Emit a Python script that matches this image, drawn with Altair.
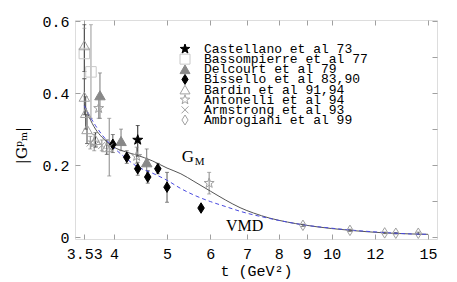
import altair as alt
import pandas as pd

# ---------------- data ----------------
series = ["Castellano et al 73", "Bassompierre et al 77", "Delcourt et al 79",
          "Bissello et al 83,90", "Bardin et al 91,94", "Antonelli et al 94",
          "Armstrong et al 93", "Ambrogiani et al 99"]

cast_t = [4.42];  cast_y = [0.270]; cast_lo = [0.225]; cast_hi = [0.310]
bass_t = [3.53, 3.63]; bass_y = [0.510, 0.459]; bass_lo = [0.44, 0.33]; bass_hi = [0.58, 0.59]
delc_t = [3.77, 4.12, 4.59]; delc_y = [0.394, 0.267, 0.208]
delc_lo = [0.33, 0.24, 0.17]; delc_hi = [0.456, 0.30, 0.245]
biss_t = [3.98, 4.22, 4.42, 4.61, 4.81, 5.00, 5.77]
biss_y = [0.258, 0.222, 0.190, 0.167, 0.190, 0.139, 0.081]
biss_lo = [0.235, 0.205, 0.172, 0.150, 0.176, 0.097, 0.075]
biss_hi = [0.285, 0.240, 0.208, 0.185, 0.205, 0.180, 0.087]
bard_t = [3.53, 3.53, 3.55, 3.57, 3.70, 3.88]
bard_y = [0.533, 0.390, 0.345, 0.300, 0.270, 0.250]
bard_lo = [0.46, 0.34, 0.30, 0.26, 0.25, 0.23]
bard_hi = [0.59, 0.44, 0.39, 0.34, 0.29, 0.27]
anto_t = [3.75, 3.68, 4.40, 5.97]; anto_y = [0.358, 0.262, 0.225, 0.150]
anto_lo = [0.33, 0.24, 0.205, 0.120]; anto_hi = [0.39, 0.285, 0.250, 0.180]
arms_t = [3.62, 3.80, 3.92]; arms_y = [0.262, 0.255, 0.250]
arms_lo = [0.245, 0.24, 0.17]; arms_hi = [0.28, 0.27, 0.33]
ambr_t = [8.86, 10.8, 12.5, 13.1, 14.4]; ambr_y = [0.033, 0.019, 0.012, 0.011, 0.011]
ambr_lo = [0.030, 0.016, 0.010, 0.009, 0.008]; ambr_hi = [0.036, 0.022, 0.014, 0.013, 0.014]

gm_t = [3.53, 3.6, 3.7, 3.8, 3.9, 4.0, 4.2, 4.4, 4.7, 5.0, 5.3, 5.6, 6.0, 6.4, 6.8,
        7.2, 7.7, 8.3, 8.9, 10, 11, 12.5, 14, 15]
gm_y = [0.37, 0.335, 0.30, 0.278, 0.262, 0.25, 0.237, 0.228, 0.212, 0.192, 0.176, 0.155,
        0.128, 0.103, 0.082, 0.067, 0.053, 0.042, 0.034, 0.024, 0.018, 0.012, 0.009, 0.008]
vmd_t = [3.53, 3.6, 3.7, 3.8, 4.0, 4.2, 4.4, 4.7, 5.0, 5.3, 5.6, 6.0, 6.4, 6.8, 7.7,
         8.3, 8.9, 10, 11, 12.5, 14, 15]
vmd_y = [0.365, 0.34, 0.31, 0.285, 0.248, 0.22, 0.197, 0.178, 0.158, 0.135, 0.117, 0.099,
         0.085, 0.072, 0.052, 0.042, 0.034, 0.025, 0.019, 0.013, 0.009, 0.008]

x_ticks = [3.53, 4, 5, 6, 7, 8, 9, 10, 12, 15]
y_ticks = [0, 0.1, 0.2, 0.3, 0.4, 0.5, 0.6]

# ---------------- styling ----------------
STAR = "M0,-1L0.24,-0.33L0.95,-0.31L0.38,0.12L0.59,0.81L0,0.40L-0.59,0.81L-0.38,0.12L-0.95,-0.31L-0.24,-0.33Z"
XMARK = "M-0.7,-0.7L0.7,0.7M-0.7,0.7L0.7,-0.7"
DIAM = "M0,-1L0.62,0L0,1L-0.62,0Z"
shapes = [STAR, "square", "triangle-up", DIAM, "triangle-up", STAR, XMARK, DIAM]
fills = ["black", "transparent", "#888888", "black", "transparent", "transparent",
         "transparent", "transparent"]
strokes = ["black", "#c8c8c8", "#888888", "black", "#a0a0a0", "#a0a0a0", "#a0a0a0", "#a0a0a0"]
ebar_col = ["#222222", "#999999", "#777777", "#555555", "#444444", "#888888", "#888888", "#555555"]

groups = [(cast_t, cast_y, cast_lo, cast_hi), (bass_t, bass_y, bass_lo, bass_hi),
          (delc_t, delc_y, delc_lo, delc_hi), (biss_t, biss_y, biss_lo, biss_hi),
          (bard_t, bard_y, bard_lo, bard_hi), (anto_t, anto_y, anto_lo, anto_hi),
          (arms_t, arms_y, arms_lo, arms_hi), (ambr_t, ambr_y, ambr_lo, ambr_hi)]
rows = []
for i, (ts, ys, los, his) in enumerate(groups):
    for t, y, lo, hi in zip(ts, ys, los, his):
        rows.append({"exp": series[i], "t": t, "y": y, "lo": lo, "hi": hi, "ecol": ebar_col[i]})
pts = pd.DataFrame(rows)
curves = pd.DataFrame({"t": gm_t + vmd_t, "y": gm_y + vmd_y,
                       "model": ["GM"] * len(gm_t) + ["VMD"] * len(vmd_t)})
legend_df = pd.DataFrame({"exp": series})

xs = alt.Scale(type="log", domain=[3.394, 15.58], nice=False)
ys = alt.Scale(domain=[-0.005, 0.603], nice=False, zero=False)
shape_sc = alt.Scale(domain=series, range=shapes)
fill_sc = alt.Scale(domain=series, range=fills)
stroke_sc = alt.Scale(domain=series, range=strokes)

FRAME = "#a0a0a0"
x_axis = alt.Axis(values=x_ticks, format="~g", labelOverlap=False, labelFlush=False,
                  domain=False, offset=-5, tickSize=5, tickColor=FRAME, labelPadding=7,
                  labelFont="Liberation Mono", labelFontSize=15, labelColor="black",
                  title="t (GeV²)", titleFont="Liberation Mono", titleFontSize=15,
                  titleFontWeight="normal", titleColor="black", titlePadding=2,
                  grid=False)
y_axis = alt.Axis(values=y_ticks, format="~g", domain=False, offset=-5, tickSize=5,
                  tickColor=FRAME, labelPadding=6, labelFont="Liberation Mono",
                  labelFontSize=15, labelColor="black", title="|Gᵖₘ|",
                  titleFont="DejaVu Serif", titleFontSize=15, titleFontWeight="normal",
                  titleColor="black", titleX=-51, titleY=125, grid=False)

base_x = alt.X("t:Q", scale=xs, axis=x_axis)
base_y = alt.Y("y:Q", scale=ys, axis=y_axis)

ebars = alt.Chart(pts).mark_rule(strokeWidth=1).encode(
    x=alt.X("t:Q", scale=xs), y=alt.Y("lo:Q", scale=ys), y2="hi:Q",
    stroke=alt.Stroke("ecol:N", scale=None))
caps_lo = alt.Chart(pts).mark_tick(orient="horizontal", size=4, thickness=1).encode(
    x=alt.X("t:Q", scale=xs), y=alt.Y("lo:Q", scale=ys), color=alt.Color("ecol:N", scale=None))
caps_hi = alt.Chart(pts).mark_tick(orient="horizontal", size=4, thickness=1).encode(
    x=alt.X("t:Q", scale=xs), y=alt.Y("hi:Q", scale=ys), color=alt.Color("ecol:N", scale=None))

gm_line = alt.Chart(curves).transform_filter("datum.model == 'GM'").mark_line(
    color="#555555", strokeWidth=1, interpolate="monotone").encode(x=base_x, y=base_y)
vmd_line = alt.Chart(curves).transform_filter("datum.model == 'VMD'").mark_line(
    color="#4a4ae0", strokeWidth=1, strokeDash=[4, 3], interpolate="monotone").encode(
    x=alt.X("t:Q", scale=xs), y=alt.Y("y:Q", scale=ys))

points = alt.Chart(pts).mark_point(size=110, strokeWidth=1, opacity=1, filled=False).encode(
    x=alt.X("t:Q", scale=xs), y=alt.Y("y:Q", scale=ys),
    shape=alt.Shape("exp:N", scale=shape_sc, legend=None),
    fill=alt.Fill("exp:N", scale=fill_sc, legend=None),
    stroke=alt.Stroke("exp:N", scale=stroke_sc, legend=None))

ann_df = pd.DataFrame({"t": [5.32, 5.62, 6.41], "y": [0.222, 0.210, 0.030],
                       "txt": ["G", "M", "VMD"], "fs": [17, 11, 16]})
ann = alt.Chart(ann_df).mark_text(font="Liberation Serif", color="black", align="left",
                                   baseline="middle").encode(
    x=alt.X("t:Q", scale=xs), y=alt.Y("y:Q", scale=ys), text="txt:N",
    size=alt.Size("fs:Q", scale=None, legend=None))

main = alt.layer(ebars, caps_lo, caps_hi, gm_line, vmd_line, points, ann)

frame = alt.Chart(curves).mark_point(opacity=0).encode(
    x=alt.X("t:Q", scale=xs, axis=alt.Axis(orient="top", values=x_ticks, labels=False,
            domain=False, offset=-5, tickSize=5, tickColor=FRAME, title=None, grid=False)),
    y=alt.Y("y:Q", scale=ys, axis=alt.Axis(orient="right", values=y_ticks, labels=False,
            domain=False, offset=-5, tickSize=5, tickColor=FRAME, title=None, grid=False)))

# legend drawn as its own layer: rows placed by a point scale
leg_y = alt.Y("exp:N", sort=series, axis=None,
              scale=alt.Scale(type="point", range=[29, 100], padding=0))
leg_sym = alt.Chart(legend_df).mark_point(size=100, strokeWidth=1, opacity=1, filled=False).encode(
    x=alt.value(110), y=leg_y,
    shape=alt.Shape("exp:N", scale=shape_sc, legend=None),
    fill=alt.Fill("exp:N", scale=fill_sc, legend=None),
    stroke=alt.Stroke("exp:N", scale=stroke_sc, legend=None))
leg_txt = alt.Chart(legend_df).mark_text(font="Liberation Mono", fontSize=13, align="left",
                                         baseline="middle", color="black").encode(
    x=alt.value(129), y=leg_y, text="exp:N")
legend_layer = alt.layer(leg_sym, leg_txt)

chart = alt.layer(main, frame, legend_layer).resolve_scale(
    x="independent", y="independent").properties(
    width=362, height=219,
    autosize=alt.AutoSizeParams(type="none"),
    padding={"left": 67, "top": 12, "right": 12, "bottom": 42},
).configure_view(stroke=FRAME, strokeWidth=1).configure(background="white")

chart.save("out.html", embed_options={"renderer": "svg", "actions": False})
